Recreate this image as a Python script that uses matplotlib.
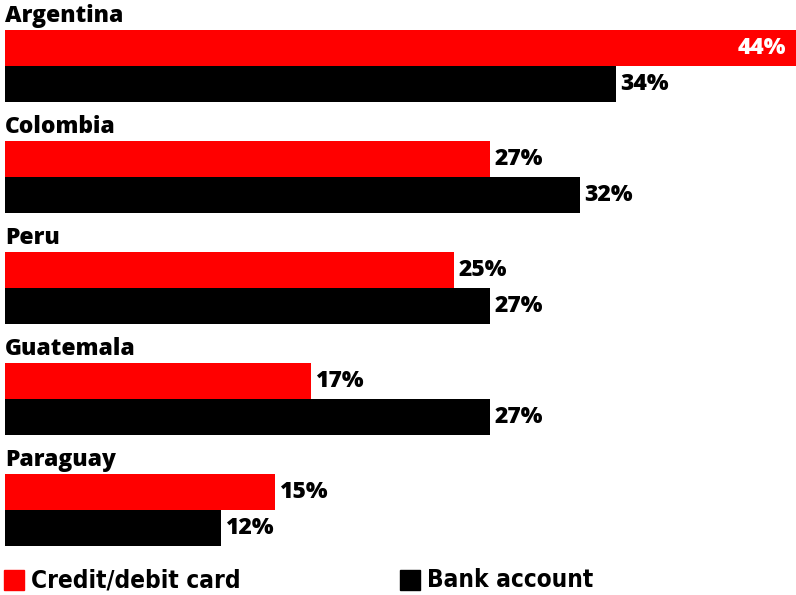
import matplotlib.pyplot as plt
from matplotlib.patches import Rectangle

countries = ["Argentina", "Colombia", "Peru", "Guatemala", "Paraguay"]
card = [44, 27, 25, 17, 15]
bank = [34, 32, 27, 27, 12]
series_names = ["Credit/debit card", "Bank account"]
RED = "#ff0000"
BLACK = "#000000"

fig = plt.figure(figsize=(7.96, 5.95), dpi=100)
# axes in pixel-like units vertically, percent horizontally
ax = fig.add_axes([5 / 796, 0, 791 / 796, 1])
ax.set_xlim(0, 44)
ax.set_ylim(595, 0)
ax.axis("off")

step = 111
bar_h = 36
for i, name in enumerate(countries):
    top = 30 + i * step
    ax.barh(top + bar_h / 2, card[i], height=bar_h, color=RED, align="center")
    ax.barh(top + bar_h * 1.5, bank[i], height=bar_h, color=BLACK, align="center")
    ax.text(0, top - 14, name, fontsize=16.5, fontweight="heavy", va="center", ha="left",
            family="Open Sans")

    for val, yc, in [(card[i], top + bar_h / 2), (bank[i], top + bar_h * 1.5)]:
        label = f"{val}%"
        if val == max(card):
            ax.annotate(label, (val, yc), xytext=(-7, 0), textcoords="offset points",
                        ha="right", va="center", color="white", fontsize=16.5,
                        fontweight="heavy", family="Open Sans")
        else:
            ax.annotate(label, (val, yc), xytext=(3, 0), textcoords="offset points",
                        ha="left", va="center", color="black", fontsize=16.5,
                        fontweight="heavy", family="Open Sans")

# legend along the bottom
for x0, color, text in [(4, RED, series_names[0]), (400, BLACK, series_names[1])]:
    fig.patches.append(Rectangle((x0 / 796, 1 - 590 / 595), 20 / 796, 20 / 595,
                                 transform=fig.transFigure, color=color))
    fig.text((x0 + 27) / 796, 1 - 580 / 595, text, fontsize=17.5, fontweight="bold",
             va="center", ha="left", family="DejaVu Sans", fontstretch="condensed")

fig.savefig("out.png", dpi=100)
